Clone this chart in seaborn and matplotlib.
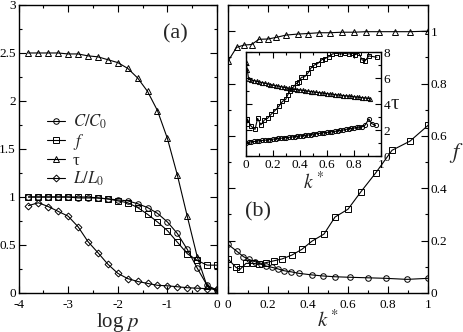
import seaborn as sns
import matplotlib.pyplot as plt
from matplotlib.ticker import MultipleLocator, FuncFormatter

# ---- panel (a): vs log p
logp = [-3.8, -3.6, -3.4, -3.2, -3.0, -2.8, -2.6, -2.4, -2.2, -2.0,
        -1.8, -1.6, -1.4, -1.2, -1.0, -0.8, -0.6, -0.4, -0.2, 0.0]
cc0_a = [1.0, 1.0, 1.0, 1.0, 1.0, 0.99, 0.99, 0.99, 0.98, 0.97,
         0.96, 0.93, 0.89, 0.83, 0.74, 0.62, 0.455, 0.26, 0.08, 0.03]
f_a = [1.0, 1.0, 1.0, 1.0, 1.0, 1.0, 1.0, 0.99, 0.98, 0.96,
       0.94, 0.89, 0.82, 0.74, 0.65, 0.53, 0.41, 0.34, 0.29, 0.29]
tau_a = [2.50, 2.50, 2.50, 2.50, 2.49, 2.49, 2.47, 2.46, 2.43, 2.40,
         2.34, 2.24, 2.10, 1.90, 1.61, 1.23, 0.80, 0.38, 0.07, 0.02]
ll0_a = [0.91, 0.94, 0.90, 0.85, 0.80, 0.69, 0.535, 0.42, 0.30, 0.205,
         0.15, 0.12, 0.10, 0.08, 0.075, 0.065, 0.055, 0.05, 0.045, 0.04]

# ---- panel (b): vs k*
k_tri = [0, 0.043, 0.08, 0.118, 0.155, 0.2, 0.24, 0.29, 0.35, 0.40,
         0.455, 0.51, 0.57, 0.63, 0.69, 0.755, 0.835, 0.91, 1.0]
tri_b = [0.885, 0.938, 0.947, 0.949, 0.969, 0.97, 0.976, 0.985, 0.989, 0.991,
         0.994, 0.994, 0.996, 0.996, 0.998, 0.998, 0.998, 0.998, 1.0]
k_sq = [0, 0.04, 0.06, 0.09, 0.127, 0.157, 0.19, 0.23, 0.27, 0.32,
        0.37, 0.42, 0.48, 0.535, 0.6, 0.665, 0.74, 0.82, 0.91, 1.0]
sq_b = [0.13, 0.098, 0.09, 0.113, 0.113, 0.11, 0.116, 0.123, 0.13, 0.145,
        0.167, 0.198, 0.225, 0.29, 0.32, 0.387, 0.46, 0.545, 0.58, 0.64]
k_circ = [0, 0.043, 0.077, 0.105, 0.135, 0.165, 0.19, 0.22, 0.25, 0.28,
          0.315, 0.355, 0.42, 0.475, 0.535, 0.61, 0.70, 0.79, 0.895, 1.0]
circ_b = [0.186, 0.16, 0.139, 0.128, 0.12, 0.11, 0.103, 0.098, 0.092, 0.085,
          0.081, 0.075, 0.069, 0.065, 0.062, 0.06, 0.058, 0.056, 0.052, 0.056]

# ---- inset: tau vs k*
ki_tri = [0, 0.01, 0.02, 0.04, 0.06, 0.08, 0.10, 0.12, 0.14, 0.16, 0.18, 0.20,
          0.22, 0.24, 0.26, 0.28, 0.30, 0.32, 0.34, 0.36, 0.38, 0.40,
          0.42, 0.44, 0.46, 0.48, 0.50, 0.52, 0.54, 0.56, 0.58, 0.60,
          0.62, 0.64, 0.66, 0.68, 0.70, 0.72, 0.74, 0.76, 0.78, 0.80,
          0.82, 0.84, 0.86, 0.88, 0.90, 0.92]
tri_in = [7.2, 6.6, 5.9, 5.85, 5.8, 5.75, 5.7, 5.65, 5.6, 5.55, 5.5, 5.45,
          5.41, 5.37, 5.33, 5.29, 5.25, 5.21, 5.18, 5.14, 5.11, 5.08,
          5.05, 5.02, 4.99, 4.96, 4.93, 4.9, 4.88, 4.85, 4.82, 4.8,
          4.77, 4.75, 4.72, 4.7, 4.68, 4.65, 4.63, 4.61, 4.58, 4.56,
          4.54, 4.51, 4.49, 4.47, 4.44, 4.42]
ki_sq = [0.005, 0.01, 0.037, 0.067, 0.086, 0.11, 0.136, 0.16, 0.185, 0.215,
         0.245, 0.27, 0.294, 0.309, 0.326, 0.35, 0.375, 0.39, 0.41, 0.435,
         0.46, 0.48, 0.506, 0.53, 0.56, 0.585, 0.615, 0.64, 0.665, 0.7,
         0.73, 0.76, 0.786, 0.81, 0.836, 0.86, 0.88, 0.91, 0.97]
sq_in = [2.46, 2.85, 2.3, 2.05, 2.9, 2.4, 2.77, 2.9, 3.2, 3.5,
         3.85, 4.2, 4.35, 4.7, 5.0, 5.3, 5.6, 5.7, 6.05, 6.1,
         6.4, 6.75, 7.0, 7.1, 7.4, 7.5, 7.65, 7.85, 7.9, 7.85,
         7.9, 7.85, 7.9, 7.8, 7.9, 7.4, 7.3, 7.7, 7.6]
ki_circ = [0, 0.02, 0.04, 0.06, 0.08, 0.10, 0.12, 0.14, 0.16, 0.18, 0.20,
           0.22, 0.24, 0.26, 0.28, 0.30, 0.32, 0.34, 0.36, 0.38, 0.40,
           0.42, 0.44, 0.46, 0.48, 0.50, 0.52, 0.54, 0.56, 0.58, 0.60,
           0.62, 0.64, 0.66, 0.68, 0.70, 0.72, 0.74, 0.76, 0.78, 0.80,
           0.82, 0.84, 0.86, 0.88, 0.91, 0.93, 0.96]
circ_in = [1.0, 1.05, 1.1, 1.12, 1.15, 1.18, 1.2, 1.22, 1.25, 1.27, 1.3,
           1.32, 1.35, 1.37, 1.4, 1.42, 1.44, 1.47, 1.5, 1.52, 1.55,
           1.57, 1.6, 1.62, 1.65, 1.7, 1.72, 1.74, 1.78, 1.8, 1.82,
           1.85, 1.88, 1.9, 1.95, 1.97, 2.0, 2.05, 2.1, 2.12, 2.15,
           2.2, 2.22, 2.25, 2.35, 2.85, 2.5, 2.35]

sns.set_style('ticks')
plt.rcParams['font.family'] = ['Liberation Serif', 'DejaVu Serif']
plt.rcParams['mathtext.fontset'] = 'stix'
plt.rcParams['axes.unicode_minus'] = False

fmt = FuncFormatter(lambda v, p: f'{v:g}')


def serie(ax, x, y, marker, ms=4, label=None):
    sns.lineplot(x=x, y=y, ax=ax, color='k', lw=0.8, marker=marker, ms=ms,
                 mfc='none', mec='k', mew=0.7, errorbar=None, label=label)


def estilo(ax):
    ax.tick_params(which='both', direction='in', top=True, right=True,
                   labelsize=9.5, pad=2, colors='k')
    ax.tick_params(axis='x', pad=4)
    ax.tick_params(which='major', length=5, width=0.8)
    ax.tick_params(which='minor', length=2.5, width=0.8)
    for s in ax.spines.values():
        s.set_color('k')
        s.set_linewidth(1.0)


fig = plt.figure(figsize=(4.63, 3.32), dpi=100)
ax1 = fig.add_axes([0.040, 0.1175, 0.4287, 0.8675])
ax2 = fig.add_axes([0.4924, 0.1175, 0.432, 0.8675])
ax3 = fig.add_axes([0.5313, 0.530, 0.2916, 0.3133])

# (a)
serie(ax1, logp, cc0_a, 'o', label='$C/C_0$')
serie(ax1, logp, f_a, 's', label='$f$')
serie(ax1, logp, tau_a, '^', label='τ')
serie(ax1, logp, ll0_a, 'D', ms=3.5, label='$L/L_0$')
ax1.set_xlim(-4, 0)
ax1.set_ylim(0, 3)
ax1.xaxis.set_major_locator(MultipleLocator(1))
ax1.xaxis.set_minor_locator(MultipleLocator(0.5))
ax1.yaxis.set_major_locator(MultipleLocator(0.5))
ax1.yaxis.set_minor_locator(MultipleLocator(0.25))
ax1.xaxis.set_major_formatter(fmt)
ax1.yaxis.set_major_formatter(fmt)
estilo(ax1)
ax1.set_xlabel('log $p$', fontsize=15, labelpad=0)
ax1.set_ylabel('')
ax1.text(0.79, 0.9, '(a)', transform=ax1.transAxes, fontsize=16,
         ha='center', va='center')
ax1.legend(loc='upper left', bbox_to_anchor=(0.1, 0.655), frameon=False,
           fontsize=12, handlelength=1.1, handletextpad=0.45,
           labelspacing=0.05, borderpad=0)

# (b)
serie(ax2, k_tri, tri_b, '^')
serie(ax2, k_sq, sq_b, 's')
serie(ax2, k_circ, circ_b, 'o')
ax2.set_xlim(0, 1)
ax2.set_ylim(0, 1.1)
ax2.xaxis.set_major_locator(MultipleLocator(0.2))
ax2.xaxis.set_minor_locator(MultipleLocator(0.1))
ax2.yaxis.set_major_locator(MultipleLocator(0.2))
ax2.yaxis.set_minor_locator(MultipleLocator(0.1))
ax2.xaxis.set_major_formatter(fmt)
ax2.yaxis.set_major_formatter(fmt)
estilo(ax2)
ax2.tick_params(axis='y', labelleft=False, labelright=True)
ax2.yaxis.set_label_position('right')
ax2.set_ylabel('$f$', fontsize=16, rotation=0, ha='center', va='center')
ax2.yaxis.set_label_coords(1.14, 0.485)
ax2.set_xlabel('$k^*$', fontsize=15, labelpad=0)
ax2.text(0.15, 0.28, '(b)', transform=ax2.transAxes, fontsize=16,
         ha='center', va='center')

# inset
serie(ax3, ki_tri, tri_in, '^', ms=3)
serie(ax3, ki_sq, sq_in, 's', ms=3)
serie(ax3, ki_circ, circ_in, 'o', ms=3)
ax3.set_xlim(0, 1)
ax3.set_ylim(0, 8)
ax3.xaxis.set_major_locator(MultipleLocator(0.2))
ax3.xaxis.set_minor_locator(MultipleLocator(0.1))
ax3.yaxis.set_major_locator(MultipleLocator(2))
ax3.yaxis.set_minor_locator(MultipleLocator(1))
ax3.xaxis.set_major_formatter(fmt)
ax3.yaxis.set_major_formatter(fmt)
estilo(ax3)
ax3.tick_params(which='major', length=4)
ax3.tick_params(which='minor', length=2)
ax3.tick_params(axis='x', pad=2)
ax3.tick_params(axis='y', labelleft=False, labelright=True)
ax3.yaxis.set_label_position('right')
ax3.set_ylabel('τ', fontsize=15, rotation=0, labelpad=3, va='center')
ax3.set_xlabel('$k^*$', fontsize=14, labelpad=0)

fig.savefig('out.png', dpi=100)
